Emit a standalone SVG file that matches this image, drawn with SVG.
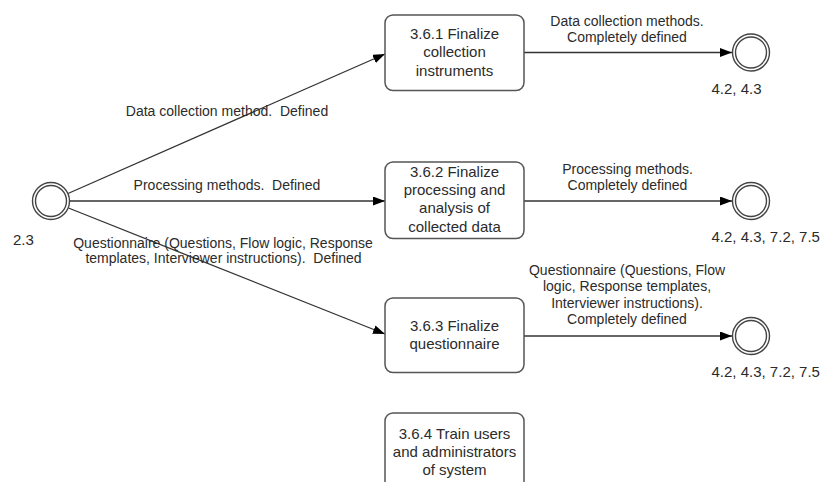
<svg xmlns="http://www.w3.org/2000/svg" width="824" height="482" viewBox="0 0 824 482">
<style>
text{font-family:"Liberation Sans",Arial,sans-serif;fill:#2b2b2b;white-space:pre}
.box{fill:#fff;stroke:#555;stroke-width:1.5}
.bt{font-size:15px;text-anchor:middle}
.el{font-size:14px;text-anchor:middle}
.nl{font-size:15px}
.ev{fill:#fff;stroke:#444;stroke-width:1.4}
.edge{fill:none;stroke:#333;stroke-width:1.3;marker-end:url(#arr)}
</style>
<defs>
<marker id="arr" markerUnits="userSpaceOnUse" markerWidth="13" markerHeight="10" refX="12" refY="4.5" orient="auto">
<path d="M0,0 L12,4.5 L0,9 z" fill="#000"/>
</marker>
</defs>
<g id="connectors">
<line class="edge" x1="68" y1="193.5" x2="385" y2="54"/>
<line class="edge" x1="70" y1="201" x2="385" y2="201"/>
<line class="edge" x1="68.5" y1="208" x2="385" y2="334"/>
<line class="edge" x1="524" y1="52.5" x2="732" y2="52.5"/>
<line class="edge" x1="524" y1="201" x2="732" y2="201"/>
<line class="edge" x1="524" y1="336" x2="732" y2="336"/>
<text class="el" x="227" y="116">Data collection method.  Defined</text>
<text class="el" x="227" y="189.5">Processing methods.  Defined</text>
<text class="el" x="223" y="247.5">Questionnaire (Questions, Flow logic, Response</text>
<text class="el" x="223.5" y="262.5">templates, Interviewer instructions).  Defined</text>
<text class="el" x="627" y="26">Data collection methods.</text>
<text class="el" x="627" y="41.5">Completely defined</text>
<text class="el" x="627.5" y="173.5">Processing methods.</text>
<text class="el" x="627.5" y="189.5">Completely defined</text>
<text class="el" x="627" y="275">Questionnaire (Questions, Flow</text>
<text class="el" x="627" y="291">logic, Response templates,</text>
<text class="el" x="627" y="307.5">Interviewer instructions).</text>
<text class="el" x="627" y="324">Completely defined</text>
</g>
<g id="start">
<circle class="ev" cx="51" cy="201" r="18.5"/>
<circle class="ev" cx="51" cy="201" r="15.5"/>
<text class="nl" x="13" y="245">2.3</text>
</g>
<g id="box1">
<rect class="box" x="385" y="15" width="139" height="75.5" rx="8"/>
<text class="bt" x="454.5" y="39">3.6.1 Finalize</text>
<text class="bt" x="454.5" y="57">collection</text>
<text class="bt" x="454.5" y="75.5">instruments</text>
</g>
<g id="box2">
<rect class="box" x="385" y="162" width="139" height="76.5" rx="8"/>
<text class="bt" x="454.5" y="176.5">3.6.2 Finalize</text>
<text class="bt" x="454.5" y="195">processing and</text>
<text class="bt" x="454.5" y="213.3">analysis of</text>
<text class="bt" x="454.5" y="231.5">collected data</text>
</g>
<g id="box3">
<rect class="box" x="385" y="298" width="139" height="74.5" rx="8"/>
<text class="bt" x="454.5" y="330.5">3.6.3 Finalize</text>
<text class="bt" x="454.5" y="349">questionnaire</text>
</g>
<g id="box4">
<rect class="box" x="385" y="413" width="139" height="76" rx="8"/>
<text class="bt" x="454.5" y="438.5">3.6.4 Train users</text>
<text class="bt" x="454.5" y="457">and administrators</text>
<text class="bt" x="454.5" y="475">of system</text>
</g>
<g id="end1">
<circle class="ev" cx="751" cy="52.5" r="18.5"/>
<circle class="ev" cx="751" cy="52.5" r="15.5"/>
<text class="nl" x="711.5" y="94">4.2, 4.3</text>
</g>
<g id="end2">
<circle class="ev" cx="751" cy="201" r="18.5"/>
<circle class="ev" cx="751" cy="201" r="15.5"/>
<text class="nl" x="711.5" y="241.5">4.2, 4.3, 7.2, 7.5</text>
</g>
<g id="end3">
<circle class="ev" cx="751" cy="336" r="18.5"/>
<circle class="ev" cx="751" cy="336" r="15.5"/>
<text class="nl" x="711.5" y="376.5">4.2, 4.3, 7.2, 7.5</text>
</g>
</svg>
